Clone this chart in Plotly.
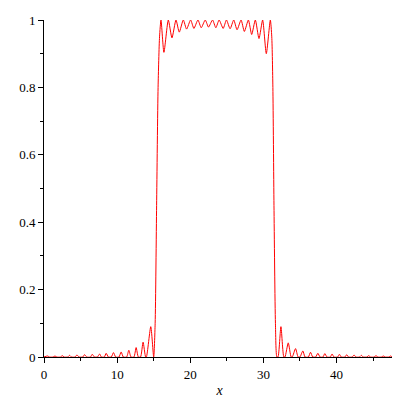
import plotly.graph_objects as go

# Curve samples (x, y), clipped view 0..1
x_vals = [
    0.0, 0.5, 0.75, 1.25, 1.5, 1.75, 2.25, 2.5, 2.75, 3.25, 3.5, 3.75, 4.25, 4.5, 4.8,
    5.3, 5.55, 5.85, 6.35, 6.6, 6.9, 7.3, 7.6, 7.85, 8.25, 8.5, 8.8, 9.2, 9.5, 9.8,
    10.25, 10.55, 10.85, 11.3, 11.6, 11.9, 12.3, 12.6, 12.9, 13.2, 13.55, 13.9,
    14.0, 14.6, 15.0,
    15.2, 15.4, 15.6, 15.8, 16.0, 16.4, 17.0, 17.5, 18.05, 18.5, 19.05, 19.5,
    20.05, 20.5, 21.05, 21.5, 22.05, 22.5, 23.05, 23.5, 23.95, 24.5, 24.95,
    25.45, 25.95, 26.4, 26.95, 27.4, 27.95, 28.4, 28.9, 29.4, 29.9, 30.4, 30.95,
    31.15, 31.3, 31.45, 31.65, 31.85,
    32.0, 32.4, 32.8, 32.95, 33.4, 33.8, 33.95, 34.4, 34.75, 35.0, 35.4, 35.7,
    36.15, 36.45, 36.75, 37.15, 37.45, 37.75, 38.15, 38.4, 38.7, 39.15, 39.4,
    39.65, 40.15, 40.4, 40.65, 41.15, 41.4, 41.65, 42.15, 42.4, 42.65, 43.15,
    43.4, 43.65, 44.15, 44.4, 44.65, 45.15, 45.4, 45.65, 46.15, 46.4, 46.65,
    47.15, 47.4, 47.65, 48.0,
]
y_vals = [
    0.0, 0.003, 0.0, 0.0, 0.003, 0.0, 0.0, 0.004, 0.0, 0.0, 0.005, 0.0, 0.0, 0.006, 0.0,
    0.0, 0.007, 0.0, 0.0, 0.008, 0.0, 0.0, 0.009, 0.0, 0.0, 0.011, 0.0, 0.0, 0.013, 0.0,
    0.0, 0.015, 0.0, 0.0, 0.02, 0.0, 0.0, 0.028, 0.0, 0.0, 0.044, 0.0,
    0.0, 0.09, 0.0,
    0.1, 0.45, 0.8, 0.95, 1.0, 0.904, 1.0, 0.947, 1.0, 0.964, 1.0, 0.973,
    1.0, 0.975, 1.0, 0.977, 1.0, 0.979, 1.0, 0.977, 1.0, 0.975, 1.0,
    0.974, 1.0, 0.971, 1.0, 0.966, 1.0, 0.957, 1.0, 0.945, 1.0, 0.90, 1.0,
    0.95, 0.8, 0.45, 0.1, 0.0,
    0.0, 0.09, 0.0, 0.0, 0.042, 0.0, 0.0, 0.025, 0.0, 0.0, 0.018, 0.0,
    0.0, 0.014, 0.0, 0.0, 0.011, 0.0, 0.0, 0.010, 0.0, 0.0, 0.009,
    0.0, 0.0, 0.008, 0.0, 0.0, 0.007, 0.0, 0.0, 0.006, 0.0, 0.0,
    0.005, 0.0, 0.0, 0.004, 0.0, 0.0, 0.004, 0.0, 0.0, 0.003, 0.0,
    0.0, 0.003, 0.0, 0.0,
]

x_ticks = [0, 10, 20, 30, 40]
y_ticks = [0, 0.2, 0.4, 0.6, 0.8, 1]
y_tick_text = ["0", "0.2", "0.4", "0.6", "0.8", "1"]

fig = go.Figure()
fig.add_trace(go.Scatter(
    x=x_vals, y=y_vals, mode="lines",
    line=dict(color="#ff0000", width=1, shape="spline", smoothing=0.6),
    hoverinfo="skip",
))

font = dict(family="Times New Roman, Liberation Serif, serif", size=13, color="black")
fig.update_layout(
    width=392, height=392,
    margin=dict(l=36, r=5, t=6, b=43),
    paper_bgcolor="white", plot_bgcolor="white",
    showlegend=False,
    font=font,
    xaxis=dict(
        range=[0, 48], tickvals=x_ticks, ticks="outside", ticklen=5, tickcolor="black",
        showline=True, linecolor="black", linewidth=1, showgrid=False, zeroline=False,
        minor=dict(dtick=5, tick0=0, ticks="outside", ticklen=3, tickcolor="black"),
        title=dict(text="<i>x</i>", standoff=4, font=dict(size=14)),
        tickfont=font,
        layer="above traces", ticklabeloverflow="allow",
    ),
    yaxis=dict(
        range=[0, 1], tickvals=y_ticks, ticktext=y_tick_text, ticks="outside", ticklen=5,
        tickcolor="black", showline=True, linecolor="black", linewidth=1,
        showgrid=False, zeroline=False,
        minor=dict(dtick=0.1, tick0=0, ticks="outside", ticklen=3, tickcolor="black"),
        tickfont=font,
        layer="above traces", ticklabeloverflow="allow",
    ),
)

fig.write_html("out.html")
